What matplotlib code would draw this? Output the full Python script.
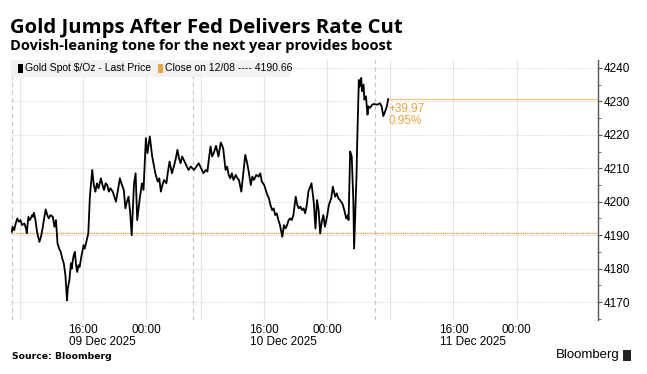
import numpy as np
import matplotlib.pyplot as plt
from matplotlib.transforms import blended_transform_factory
import matplotlib.patches as mpatches

plt.rcParams['font.family'] = ['Liberation Sans Narrow', 'Liberation Sans', 'DejaVu Sans']

# hours since session open (07:00 HKT 09 Dec, daily break compressed)
hours = [0.0, 0.1, 0.3, 0.5, 0.7, 0.9, 1.1, 1.3, 1.6, 1.8, 1.9, 2.1, 2.3, 2.6, 2.7, 2.8,
         3.0, 3.2, 3.5, 3.7, 3.9, 4.1, 4.3, 4.5, 4.7, 4.9, 5.2, 5.4, 5.6, 5.8, 6.0, 6.2,
         6.4, 6.6, 6.8, 7.0, 7.1, 7.3, 7.5, 7.6, 7.7, 7.85, 8.0, 8.15, 8.3, 8.45, 8.6,
         8.85, 9.1, 9.25, 9.4, 9.7, 9.9, 10.2, 10.4, 10.6, 10.8, 11.0, 11.3, 11.5, 11.7,
         11.9, 12.1, 12.3, 12.5, 12.8, 13.0, 13.2, 13.5, 13.7, 13.9, 14.2, 14.4, 14.6,
         14.8, 15.0, 15.2, 15.5, 15.7, 15.9, 16.2, 16.5, 16.7, 17.0, 17.2, 17.5, 17.8,
         18.0, 18.2, 18.5, 18.7, 18.9, 19.1, 19.3, 19.6, 19.8, 20.0, 20.3, 20.6, 20.8,
         21.0, 21.2, 21.4, 21.6, 21.8, 22.1, 22.4, 22.7, 23.1, 23.4, 23.7, 24.0, 24.3,
         24.6, 24.8, 25.0, 25.2, 25.4, 25.6, 25.9, 26.2, 26.5, 26.8, 27.1, 27.3, 27.5,
         27.7, 27.9, 28.1, 28.4, 28.6, 28.8, 29.1, 29.6, 29.8, 30.0, 30.3, 30.5, 30.7,
         31.0, 31.3, 31.5, 31.7, 32.0, 32.2, 32.4, 32.6, 32.8, 33.0, 33.2, 33.4, 33.6,
         33.8, 34.0, 34.3, 34.5, 34.7, 34.9, 35.1, 35.3, 35.5, 35.7, 36.0, 36.2, 36.4,
         36.6, 36.8, 37.0, 37.2, 37.4, 37.6, 38.0, 38.3, 38.5, 38.7, 38.9, 39.1, 39.3,
         39.5, 39.7, 40.0, 40.2, 40.5, 40.7, 41.0, 41.2, 41.4, 41.6, 41.9, 42.1, 42.4,
         42.6, 42.7, 42.9, 43.1, 43.3, 43.4, 43.7, 43.8, 44.0, 44.1, 44.3, 44.4, 44.6,
         44.7, 44.9, 45.1, 45.2, 45.4, 45.7, 45.9, 46.3, 46.7, 46.9, 47.1, 47.4, 47.6,
         47.7]
price = [4191.0, 4192.5, 4191.5, 4193.5, 4195.0, 4194.0, 4194.5, 4193.0, 4193.5, 4192.0,
         4190.6, 4195.5, 4194.5, 4196.0, 4195.5, 4196.7, 4194.5, 4191.0, 4188.0, 4189.5,
         4192.0, 4195.0, 4197.7, 4196.0, 4195.0, 4196.0, 4195.5, 4192.5, 4194.5, 4187.5,
         4186.0, 4185.0, 4183.0, 4181.5, 4178.0, 4170.5, 4174.0, 4176.5, 4181.6, 4180.0,
         4182.0, 4184.0, 4185.0, 4181.0, 4179.0, 4181.0, 4180.5, 4184.0, 4187.0, 4186.0,
         4187.5, 4190.5, 4201.5, 4209.5, 4205.0, 4203.0, 4205.5, 4204.0, 4207.0, 4205.0,
         4203.5, 4205.5, 4205.0, 4203.0, 4204.0, 4203.0, 4201.5, 4200.0, 4204.0, 4207.0,
         4205.5, 4203.5, 4198.0, 4200.0, 4201.5, 4197.0, 4190.0, 4205.5, 4208.5, 4194.5,
         4200.5, 4205.5, 4203.5, 4219.0, 4214.5, 4219.5, 4213.5, 4211.0, 4208.5, 4206.0,
         4207.0, 4203.0, 4205.0, 4206.5, 4205.5, 4209.0, 4212.0, 4208.5, 4211.0, 4213.0,
         4215.5, 4213.0, 4211.5, 4213.5, 4212.5, 4211.0, 4209.5, 4210.5, 4209.5, 4210.5,
         4211.5, 4210.0, 4208.5, 4209.5, 4209.0, 4213.0, 4216.5, 4213.5, 4214.5, 4216.7,
         4213.5, 4217.7, 4216.0, 4209.5, 4210.5, 4208.0, 4207.0, 4208.5, 4206.5, 4208.0,
         4207.0, 4206.5, 4203.0, 4214.0, 4212.0, 4209.5, 4205.0, 4207.5, 4206.5, 4208.0,
         4207.5, 4208.5, 4206.0, 4205.0, 4203.5, 4202.0, 4201.0, 4199.0, 4197.5, 4198.0,
         4196.0, 4196.5, 4194.5, 4193.0, 4189.5, 4193.0, 4192.0, 4193.0, 4194.5, 4195.0,
         4194.5, 4196.0, 4201.5, 4199.0, 4198.0, 4198.5, 4197.5, 4198.0, 4196.5, 4199.0,
         4203.0, 4205.5, 4199.5, 4192.0, 4200.5, 4197.5, 4190.5, 4194.0, 4196.0, 4192.5,
         4196.0, 4199.0, 4201.0, 4204.5, 4201.5, 4202.5, 4201.0, 4200.5, 4199.5, 4198.0,
         4195.0, 4196.0, 4194.5, 4215.0, 4213.5, 4200.5, 4186.0, 4207.5, 4218.5, 4236.4,
         4234.4, 4237.0, 4233.0, 4235.0, 4230.5, 4231.5, 4226.0, 4228.5, 4228.0, 4229.0,
         4229.2, 4229.0, 4229.4, 4228.4, 4225.6, 4227.4, 4229.0, 4230.63]

prev_close = 4190.66
last_price = 4230.63

tick_pos = [9, 17, 32, 40, 56, 64]
tick_labels = ['16:00', '00:00', '16:00', '00:00', '16:00', '00:00']
date_pos = [9, 32, 56]
date_labels = ['09 Dec 2025', '10 Dec 2025', '11 Dec 2025']
minor_grid = [1, 24, 48]
session_breaks = [0, 23, 46]
yticks = [4170, 4180, 4190, 4200, 4210, 4220, 4230, 4240]

orange = '#f0a23c'

fig = plt.figure(figsize=(6.47, 3.74), dpi=100, facecolor='white')
ax = fig.add_axes([0.017, 0.144, 0.907, 0.696])

ax.set_xlim(-0.1, 74.3)
ax.set_ylim(4164.6, 4242.4)

# grid
for y in yticks:
    ax.axhline(y, color='#d4d4d4', lw=0.6, ls=(0, (1, 1)), zorder=0)
for x in tick_pos + minor_grid:
    ax.axvline(x, color='#e4e4e4', lw=0.8, zorder=0)
for x in session_breaks:
    ax.axvline(x, color='#c4c4c4', lw=0.8, ls=(0, (4, 3)), zorder=0)

ax.axhline(prev_close, color=orange, lw=1.0, ls=(0, (1, 0.6)), zorder=1)
ax.plot([hours[-1], 74.3], [last_price, last_price], color='#f5c781', lw=0.9, zorder=1)

ax.plot(hours, price, color='black', lw=1.3, zorder=3)

chg = last_price - prev_close
ax.text(hours[-1] + 0.1, last_price - 1.0, f'+{chg:.2f}\n{chg / prev_close * 100:.2f}%',
        color=orange, fontsize=8.5, va='top', ha='left', linespacing=1.0,
        family=['Liberation Sans', 'DejaVu Sans'])

# axes styling
for s in ['top', 'left', 'bottom']:
    ax.spines[s].set_visible(False)
ax.spines['right'].set_color('#555555')
ax.spines['right'].set_linewidth(1.0)
ax.yaxis.tick_right()
ax.set_yticks(yticks)
ax.set_yticks(np.arange(4165, 4242, 5), minor=True)
ax.tick_params(axis='y', which='major', length=3, width=0.8, color='#555555',
               labelsize=8.5, pad=1)
ax.tick_params(axis='y', which='minor', length=2, width=0.6, color='#555555')
ax.set_xticks(tick_pos)
ax.set_xticklabels(tick_labels)
ax.tick_params(axis='x', length=0, labelsize=8.5, pad=3)

trans = blended_transform_factory(ax.transData, ax.transAxes)
for x, d in zip(date_pos, date_labels):
    ax.annotate(d, xy=(x, 0), xycoords=trans, xytext=(-10, -16), textcoords='offset points',
                ha='left', va='center', fontsize=8.5)

# legend strip
ax.add_patch(mpatches.Rectangle((0, 0.935), 0.475, 0.065, transform=ax.transAxes,
                                facecolor='#f2f2f2', edgecolor='none', zorder=4))
ax.add_patch(mpatches.Rectangle((0.012, 0.951), 0.009, 0.032, transform=ax.transAxes,
                                facecolor='black', zorder=5))
ax.text(0.024, 0.967, 'Gold Spot $/Oz - Last Price', transform=ax.transAxes,
        fontsize=7.5, va='center', ha='left', zorder=5)
ax.add_patch(mpatches.Rectangle((0.250, 0.951), 0.009, 0.032, transform=ax.transAxes,
                                facecolor=orange, zorder=5))
ax.text(0.262, 0.967, 'Close on 12/08 ---- 4190.66', transform=ax.transAxes,
        fontsize=7.5, va='center', ha='left', zorder=5)

# titles and footer
fig.text(0.015, 0.912, 'Gold Jumps After Fed Delivers Rate Cut', fontsize=14.6,
         fontweight='bold', family=['Open Sans', 'DejaVu Sans'], ha='left', va='baseline')
fig.text(0.015, 0.866, 'Dovish-leaning tone for the next year provides boost', fontsize=10.5,
         fontweight='bold', family=['Open Sans', 'DejaVu Sans'], ha='left', va='baseline')
fig.text(0.018, 0.047, 'Source: Bloomberg', fontsize=6.7, fontweight='bold',
         family=['DejaVu Sans'], ha='left', va='center')
fig.text(0.958, 0.05, 'Bloomberg', fontsize=9.5, ha='right', va='center',
         family=['Liberation Sans', 'DejaVu Sans'])
fig.patches.append(mpatches.Rectangle((0.963, 0.036), 0.013, 0.028, transform=fig.transFigure,
                                      facecolor='#222222', figure=fig))

fig.savefig('out.png', dpi=100)
